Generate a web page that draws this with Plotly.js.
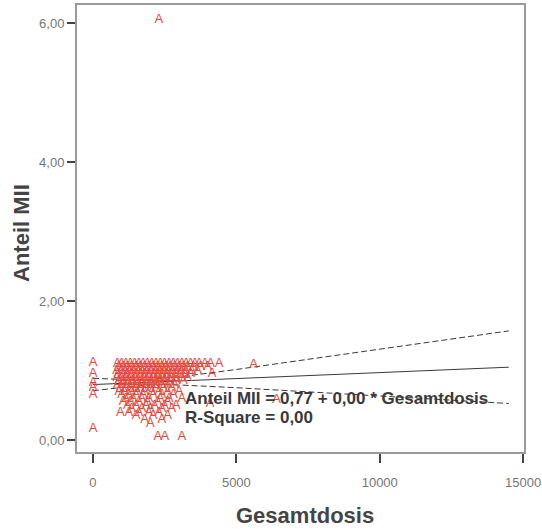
<!DOCTYPE html>
<html>
<head>
<meta charset="utf-8">
<script src="https://cdn.plot.ly/plotly-3.0.1.min.js"></script>
<style>html,body{margin:0;padding:0;background:#fff;}#chart{width:542px;height:529px;}</style>
</head>
<body>
<div id="chart"></div>
<script>
// Scatter points (Gesamtdosis, Anteil MII)
const doseX = [
  // y ~1.10
  850,1000,1150,1300,1450,1600,1750,1900,2050,2200,2350,2500,2650,2800,2950,3100,3250,3400,3550,3700,3900,4100,4400,
  // y ~1.05
  900,1050,1200,1350,1500,1650,1800,1950,2100,2250,2400,2550,2700,2850,3000,3150,3300,3500,3750,4000,
  // y ~1.00
  820,980,1120,1280,1420,1580,1720,1880,2030,2180,2330,2480,2630,2780,2930,3080,3250,3450,3650,
  // y ~0.95
  870,1030,1190,1340,1500,1660,1810,1960,2120,2270,2420,2580,2730,2890,3050,3200,3400,
  // y ~0.90
  830,990,1150,1310,1470,1630,1780,1940,2100,2260,2410,2570,2730,2900,3100,3300,
  // y ~0.85
  900,1060,1220,1380,1540,1700,1860,2020,2180,2340,2500,2700,2900,3150,
  // y ~0.80
  850,1020,1190,1360,1530,1700,1870,2040,2210,2400,2600,2850,
  // y ~0.75
  950,1130,1300,1480,1650,1830,2010,2200,2450,2750,
  // y ~0.70
  900,1100,1350,1550,1800,2050,2300,2600,3000,
  // y ~0.65
  1000,1250,1500,1750,2100,2400,2800,
  // y ~0.60
  1150,1400,1700,1950,2350,2650,3100,
  // y ~0.55
  1050,1300,1600,1900,2250,2600,
  // y ~0.50
  1200,1500,1850,2150,2500,2900,
  // y ~0.45
  1350,1700,2000,2400,2750,
  // y ~0.40
  950,1250,1600,1950,2300,
  // y ~0.35 / 0.30 / 0.24
  1500,2100,2600, 1800,2400, 2000,
  // x = 0 column
  0,0,0,0,0,0,
  // isolated points
  2260,2510,3100, 2300, 5600, 4150, 4080, 6400
];
const shareY = [
  1.10,1.10,1.10,1.10,1.10,1.10,1.10,1.10,1.10,1.10,1.10,1.10,1.10,1.10,1.10,1.10,1.10,1.10,1.10,1.10,1.10,1.10,1.10,
  1.05,1.05,1.05,1.05,1.05,1.05,1.05,1.05,1.05,1.05,1.05,1.05,1.05,1.05,1.05,1.05,1.05,1.05,1.05,1.05,
  1.00,1.00,1.00,1.00,1.00,1.00,1.00,1.00,1.00,1.00,1.00,1.00,1.00,1.00,1.00,1.00,1.00,1.00,1.00,
  0.95,0.95,0.95,0.95,0.95,0.95,0.95,0.95,0.95,0.95,0.95,0.95,0.95,0.95,0.95,0.95,0.95,
  0.90,0.90,0.90,0.90,0.90,0.90,0.90,0.90,0.90,0.90,0.90,0.90,0.90,0.90,0.90,0.90,
  0.85,0.85,0.85,0.85,0.85,0.85,0.85,0.85,0.85,0.85,0.85,0.85,0.85,0.85,
  0.80,0.80,0.80,0.80,0.80,0.80,0.80,0.80,0.80,0.80,0.80,0.80,
  0.75,0.75,0.75,0.75,0.75,0.75,0.75,0.75,0.75,0.75,
  0.70,0.70,0.70,0.70,0.70,0.70,0.70,0.70,0.70,
  0.65,0.65,0.65,0.65,0.65,0.65,0.65,
  0.60,0.60,0.60,0.60,0.60,0.60,0.60,
  0.55,0.55,0.55,0.55,0.55,0.55,
  0.50,0.50,0.50,0.50,0.50,0.50,
  0.45,0.45,0.45,0.45,0.45,
  0.40,0.40,0.40,0.40,0.40,
  0.35,0.35,0.35, 0.30,0.30, 0.24,
  1.11,0.96,0.83,0.75,0.65,0.17,
  0.05,0.05,0.05, 6.05, 1.08, 0.96, 0.53, 0.58
];

// Fitted line and confidence band
const lineX   = [0, 1000, 2000, 3000, 5000, 7500, 10000, 12500, 14500];
const fitY    = [0.80, 0.817, 0.834, 0.852, 0.886, 0.929, 0.972, 1.016, 1.05];
const upperY  = [0.89, 0.875, 0.874, 0.910, 1.017, 1.161, 1.307, 1.455, 1.572];
const lowerY  = [0.71, 0.759, 0.794, 0.794, 0.755, 0.697, 0.637, 0.577, 0.528];

const xTicks = [0, 5000, 10000, 15000];
const yTicks = [0, 2, 4, 6];

const equationText = "Anteil MII = 0,77 + 0,00 * Gesamtdosis";
const rSquareText = "R-Square = 0,00";
const xTitle = "Gesamtdosis";
const yTitle = "Anteil MII";

const red = "#e8473a";
const lineColor = "#3a3a3a";

const traces = [
  {x: lineX, y: upperY, mode: "lines", line: {color: lineColor, width: 1, dash: "6px,3px"}, hoverinfo: "skip"},
  {x: lineX, y: lowerY, mode: "lines", line: {color: lineColor, width: 1, dash: "6px,3px"}, hoverinfo: "skip"},
  {x: lineX, y: fitY, mode: "lines", line: {color: lineColor, width: 1}, hoverinfo: "skip"},
  {x: doseX, y: shareY, mode: "text", text: doseX.map(() => "A"),
   textfont: {family: "Liberation Sans, Arial, sans-serif", size: 13, color: red},
   textposition: "middle center", cliponaxis: false}
];

const layout = {
  width: 542, height: 529,
  margin: {l: 77, r: 18, t: 5, b: 77},
  paper_bgcolor: "#ffffff", plot_bgcolor: "#ffffff",
  showlegend: false,
  separators: ",.",
  font: {family: "Liberation Sans, Arial, sans-serif"},
  xaxis: {
    range: [-557, 15030], tickvals: xTicks, tickformat: "d",
    showgrid: false, zeroline: false,
    showline: true, mirror: true, linecolor: "#9a9a9a", linewidth: 2,
    ticks: "outside", ticklen: 9, tickwidth: 2, tickcolor: "#444",
    tickfont: {size: 13, color: "#777"}, ticklabelstandoff: 8
  },
  yaxis: {
    range: [-0.17, 6.26], tickvals: yTicks, tickformat: ".2f",
    showgrid: false, zeroline: false,
    showline: true, mirror: true, linecolor: "#9a9a9a", linewidth: 2,
    ticks: "outside", ticklen: 8, tickwidth: 2, tickcolor: "#444",
    tickfont: {size: 13, color: "#777"}
  },
  annotations: [
    {text: equationText, x: 3136, y: 0.60, xref: "x", yref: "y", xanchor: "left", yanchor: "middle",
     showarrow: false, font: {size: 17, color: "#3a3a3a", weight: "bold"}},
    {text: rSquareText, x: 3136, y: 0.33, xref: "x", yref: "y", xanchor: "left", yanchor: "middle",
     showarrow: false, font: {size: 17, color: "#3a3a3a", weight: "bold"}},
    {text: xTitle, x: 0.51, y: -0.141, xref: "paper", yref: "paper", xanchor: "center", yanchor: "middle",
     showarrow: false, font: {size: 22, color: "#444", weight: "bold"}},
    {text: yTitle, x: -0.123, y: 0.49, xref: "paper", yref: "paper", xanchor: "center", yanchor: "middle",
     textangle: -90, showarrow: false, font: {size: 22, color: "#444", weight: "bold"}}
  ]
};

Plotly.newPlot("chart", traces, layout, {displayModeBar: false, staticPlot: true});
</script>
</body>
</html>
